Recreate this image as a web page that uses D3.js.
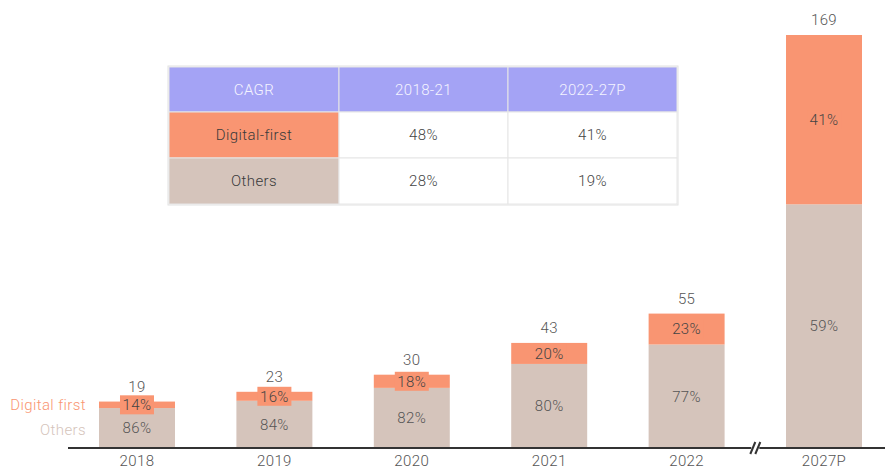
<!DOCTYPE html>
<html>
<head>
<meta charset="utf-8">
<script src="https://cdn.jsdelivr.net/npm/d3@7"></script>
<style>
  html, body { margin: 0; padding: 0; background: #fff; }
  svg { display: block; font-family: Roboto, "Open Sans", sans-serif; font-weight: 300; }
  text { letter-spacing: 0.4px; }
</style>
</head>
<body>
<svg id="chart" width="885" height="470"></svg>
<script>
const categories = ["2018", "2019", "2020", "2021", "2022", "2027P"];
const totals = [19, 23, 30, 43, 55, 169];
const digitalShare = [14, 16, 18, 20, 23, 41];
const othersShare = [86, 84, 82, 80, 77, 59];
const seriesNames = ["Digital first", "Others"];
const tableHeader = ["CAGR", "2018-21", "2022-27P"];
const tableRowNames = ["Digital-first", "Others"];
const cagr1821 = ["48%", "28%"];
const cagr2227 = ["41%", "19%"];

const colDigital = "#F99572";
const colOthers = "#D5C4BB";
const colHeader = "#A4A3F5";
const textDark = "#555";
const FS = 15;

const svg = d3.select("#chart");

const x = d3.scaleBand().domain(categories).range([99, 862]).paddingInner(0.447).paddingOuter(0);
const y = d3.scaleLinear().domain([0, 169]).range([448, 35]);

const data = categories.map((c, i) => {
  const others = totals[i] * othersShare[i] / 100;
  return { cat: c, total: totals[i], others, digital: totals[i] - others, dPct: digitalShare[i], oPct: othersShare[i] };
});

const g = svg.append("g");

g.selectAll(".others").data(data).join("rect")
  .attr("x", d => x(d.cat)).attr("width", x.bandwidth())
  .attr("y", d => y(d.others)).attr("height", d => y(0) - y(d.others))
  .attr("fill", colOthers);

g.selectAll(".digital").data(data).join("rect")
  .attr("x", d => x(d.cat)).attr("width", x.bandwidth())
  .attr("y", d => y(d.total)).attr("height", d => y(d.others) - y(d.total))
  .attr("fill", colDigital);

g.selectAll(".olab").data(data).join("text")
  .attr("x", d => x(d.cat) + x.bandwidth() / 2)
  .attr("y", d => (y(d.others) + y(0)) / 2)
  .attr("dy", "0.35em").attr("text-anchor", "middle")
  .attr("font-size", FS).attr("fill", textDark)
  .text(d => d.oPct + "%");

g.selectAll(".dbox").data(data).join("rect")
  .attr("x", d => x(d.cat) + x.bandwidth() / 2 - 17)
  .attr("y", d => (y(d.total) + y(d.others)) / 2 - 9.5)
  .attr("width", 34).attr("height", 19)
  .attr("fill", colDigital);

g.selectAll(".dlab").data(data).join("text")
  .attr("x", d => x(d.cat) + x.bandwidth() / 2)
  .attr("y", d => (y(d.total) + y(d.others)) / 2)
  .attr("dy", "0.35em").attr("text-anchor", "middle")
  .attr("font-size", FS).attr("fill", "#444")
  .text(d => d.dPct + "%");

g.selectAll(".tlab").data(data).join("text")
  .attr("x", d => x(d.cat) + x.bandwidth() / 2)
  .attr("y", d => y(d.total) - 10)
  .attr("text-anchor", "middle")
  .attr("font-size", FS).attr("fill", textDark)
  .text(d => d.total);

const axis = d3.axisBottom(x).tickSize(0).tickPadding(7);
const ax = svg.append("g").attr("transform", `translate(0,${y(0)})`).call(axis);
ax.select(".domain").remove();
ax.selectAll("text").attr("font-size", FS).attr("fill", textDark)
  .attr("font-family", "Roboto, sans-serif").attr("font-weight", 300);
svg.append("line").attr("x1", 68).attr("x2", 885).attr("y1", y(0)).attr("y2", y(0))
  .attr("stroke", "#333").attr("stroke-width", 2);

const bx = (x("2022") + x.bandwidth() + x("2027P")) / 2;
svg.append("rect").attr("x", bx - 4).attr("y", y(0) - 2).attr("width", 8).attr("height", 4).attr("fill", "#fff");
[-2.5, 2.5].forEach(o => {
  svg.append("line").attr("x1", bx + o - 2.5).attr("y1", y(0) + 6).attr("x2", bx + o + 2.5).attr("y2", y(0) - 6)
    .attr("stroke", "#333").attr("stroke-width", 2);
});

svg.append("text").attr("x", 86).attr("y", (y(data[0].total) + y(data[0].others)) / 2)
  .attr("dy", "0.35em").attr("text-anchor", "end").attr("font-size", FS).attr("fill", colDigital)
  .text(seriesNames[0]);
svg.append("text").attr("x", 86).attr("y", (y(data[0].others) + y(0)) / 2 + 2)
  .attr("dy", "0.35em").attr("text-anchor", "end").attr("font-size", FS).attr("fill", colOthers)
  .text(seriesNames[1]);

const tx = [169, 339, 508, 677];
const ty = [67, 112, 158, 204];
const tbl = svg.append("g");
tbl.append("rect").attr("x", tx[0] - 1).attr("y", ty[0] - 1).attr("width", tx[3] - tx[0] + 2).attr("height", ty[3] - ty[0] + 2)
  .attr("fill", "none").attr("stroke", "#e2e2e2");
const rows = [tableHeader,
  [tableRowNames[0], cagr1821[0], cagr2227[0]],
  [tableRowNames[1], cagr1821[1], cagr2227[1]]];
rows.forEach((r, ri) => {
  r.forEach((cell, ci) => {
    let fill = "#fff", tc = "#444";
    if (ri === 0) { fill = colHeader; tc = "#f4f4ff"; }
    else if (ci === 0) { fill = ri === 1 ? colDigital : colOthers; tc = "#3a3a3a"; }
    tbl.append("rect").attr("x", tx[ci]).attr("y", ty[ri])
      .attr("width", tx[ci + 1] - tx[ci]).attr("height", ty[ri + 1] - ty[ri])
      .attr("fill", fill).attr("stroke", "#e6e6e6").attr("stroke-width", 1);
    tbl.append("text").attr("x", (tx[ci] + tx[ci + 1]) / 2).attr("y", (ty[ri] + ty[ri + 1]) / 2)
      .attr("dy", "0.35em").attr("text-anchor", "middle").attr("font-size", FS).attr("fill", tc)
      .text(cell);
  });
});
</script>
</body>
</html>
